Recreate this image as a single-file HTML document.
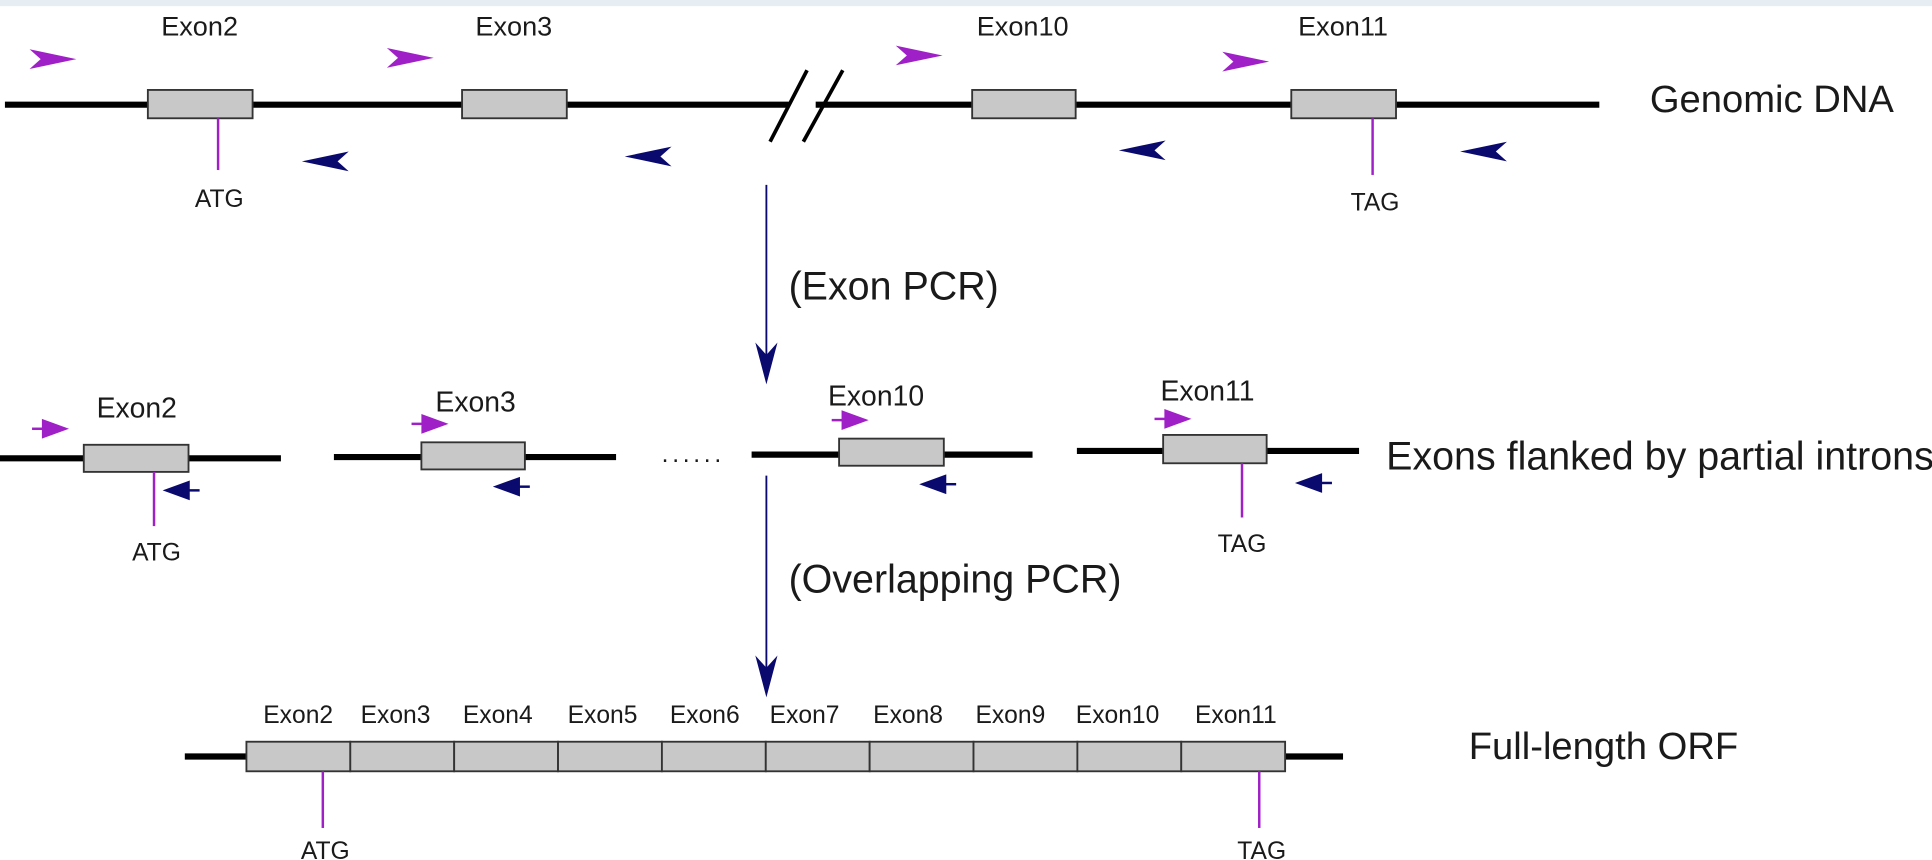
<!DOCTYPE html>
<html><head><meta charset="utf-8"><style>
html,body{margin:0;padding:0;background:#fff;}
svg{display:block;}
text{font-family:"Liberation Sans",Arial,sans-serif;fill:#1a1a1a;}
</style></head><body>
<svg width="1932" height="860" viewBox="0 0 1568 698" preserveAspectRatio="none" xmlns="http://www.w3.org/2000/svg">
<defs>
<path id="pr" d="M0,-8 L38,0 L0,8 L9,0 Z" fill="#a020c8"/>
<path id="nl" d="M0,-8 L-38,0 L0,8 L-9,0 Z" fill="#0a0a6e"/>
<g id="spr"><line x1="0" y1="0" x2="10" y2="0" stroke="#a020c8" stroke-width="2"/><path d="M8,-8 L30,0 L8,8 Z" fill="#a020c8"/></g>
<g id="snl"><line x1="0" y1="0" x2="-10" y2="0" stroke="#0a0a6e" stroke-width="2"/><path d="M-8,-8 L-30,0 L-8,8 Z" fill="#0a0a6e"/></g>
</defs>
<rect x="0" y="0" width="1568" height="5" fill="#e6edf3"/>

<!-- Row 1 -->
<line x1="4" y1="85" x2="640" y2="85" stroke="#000" stroke-width="5"/>
<line x1="662" y1="85" x2="1298" y2="85" stroke="#000" stroke-width="5"/>
<line x1="625" y1="115" x2="655" y2="57" stroke="#000" stroke-width="3"/>
<line x1="652" y1="115" x2="684" y2="57" stroke="#000" stroke-width="3"/>
<g fill="#c8c8c8" stroke="#333" stroke-width="1.5">
<rect x="120" y="73" width="85" height="23"/>
<rect x="375" y="73" width="85" height="23"/>
<rect x="789" y="73" width="84" height="23"/>
<rect x="1048" y="73" width="85" height="23"/>
</g>
<g font-size="22" text-anchor="middle">
<text x="162" y="29">Exon2</text><text x="417" y="29">Exon3</text>
<text x="830" y="29">Exon10</text><text x="1090" y="29">Exon11</text>
</g>
<use href="#pr" x="24" y="48"/><use href="#pr" x="314" y="47"/>
<use href="#pr" x="727" y="45"/><use href="#pr" x="992" y="50"/>
<use href="#nl" x="283" y="131"/><use href="#nl" x="545" y="127"/>
<use href="#nl" x="946" y="122"/><use href="#nl" x="1223" y="123"/>
<line x1="177" y1="96" x2="177" y2="138" stroke="#a020c8" stroke-width="2"/>
<line x1="1114" y1="96" x2="1114" y2="142" stroke="#a020c8" stroke-width="2"/>
<text x="178" y="168" font-size="20" text-anchor="middle">ATG</text>
<text x="1116" y="171" font-size="20" text-anchor="middle">TAG</text>
<text x="1339" y="91" font-size="31">Genomic DNA</text>

<!-- arrow 1 -->
<line x1="622" y1="150" x2="622" y2="290" stroke="#0a0a6e" stroke-width="1.5"/>
<path d="M613,278 L622,288 L631,278 L622,312 Z" fill="#0a0a6e"/>
<text x="640" y="243" font-size="32">(Exon PCR)</text>

<!-- Row 2 -->
<g stroke="#000" stroke-width="5">
<line x1="0" y1="372" x2="228" y2="372"/>
<line x1="271" y1="371" x2="500" y2="371"/>
<line x1="610" y1="369" x2="838" y2="369"/>
<line x1="874" y1="366" x2="1103" y2="366"/>
</g>
<g fill="#c8c8c8" stroke="#333" stroke-width="1.5">
<rect x="68" y="361" width="85" height="22"/>
<rect x="342" y="359" width="84" height="22"/>
<rect x="681" y="356" width="85" height="22"/>
<rect x="944" y="353" width="84" height="23"/>
</g>
<g font-size="23" text-anchor="middle">
<text x="111" y="339">Exon2</text><text x="386" y="334">Exon3</text>
<text x="711" y="329">Exon10</text><text x="980" y="325">Exon11</text>
</g>
<text x="537" y="375" font-size="20" letter-spacing="3">......</text>
<use href="#spr" x="26" y="348"/><use href="#spr" x="334" y="344"/>
<use href="#spr" x="675" y="341"/><use href="#spr" x="937" y="340"/>
<use href="#snl" x="162" y="398"/><use href="#snl" x="430" y="395"/>
<use href="#snl" x="776" y="393"/><use href="#snl" x="1081" y="392"/>
<line x1="125" y1="383" x2="125" y2="427" stroke="#a020c8" stroke-width="2"/>
<line x1="1008" y1="376" x2="1008" y2="420" stroke="#a020c8" stroke-width="2"/>
<text x="127" y="455" font-size="20" text-anchor="middle">ATG</text>
<text x="1008" y="448" font-size="20" text-anchor="middle">TAG</text>
<text x="1125" y="381" font-size="32">Exons flanked by partial introns</text>

<!-- arrow 2 -->
<line x1="622" y1="386" x2="622" y2="545" stroke="#0a0a6e" stroke-width="1.5"/>
<path d="M613,532 L622,542 L631,532 L622,566 Z" fill="#0a0a6e"/>
<text x="640" y="481" font-size="32">(Overlapping PCR)</text>

<!-- Row 3 -->
<line x1="150" y1="614" x2="1090" y2="614" stroke="#000" stroke-width="5"/>
<g fill="#c8c8c8" stroke="#333" stroke-width="1.5">
<rect x="200" y="602" width="84.3" height="24"/><rect x="284.3" y="602" width="84.3" height="24"/>
<rect x="368.6" y="602" width="84.3" height="24"/><rect x="452.9" y="602" width="84.3" height="24"/>
<rect x="537.2" y="602" width="84.3" height="24"/><rect x="621.5" y="602" width="84.3" height="24"/>
<rect x="705.8" y="602" width="84.3" height="24"/><rect x="790.1" y="602" width="84.3" height="24"/>
<rect x="874.4" y="602" width="84.3" height="24"/><rect x="958.7" y="602" width="84.3" height="24"/>
</g>
<g font-size="20" text-anchor="middle">
<text x="242" y="587">Exon2</text><text x="321" y="587">Exon3</text><text x="404" y="587">Exon4</text>
<text x="489" y="587">Exon5</text><text x="572" y="587">Exon6</text><text x="653" y="587">Exon7</text>
<text x="737" y="587">Exon8</text><text x="820" y="587">Exon9</text><text x="907" y="587">Exon10</text>
<text x="1003" y="587">Exon11</text>
</g>
<line x1="262" y1="626" x2="262" y2="672" stroke="#a020c8" stroke-width="2"/>
<line x1="1022" y1="626" x2="1022" y2="672" stroke="#a020c8" stroke-width="2"/>
<text x="264" y="697" font-size="20" text-anchor="middle">ATG</text>
<text x="1024" y="697" font-size="20" text-anchor="middle">TAG</text>
<text x="1192" y="616" font-size="31">Full-length ORF</text>
</svg>
</body></html>
